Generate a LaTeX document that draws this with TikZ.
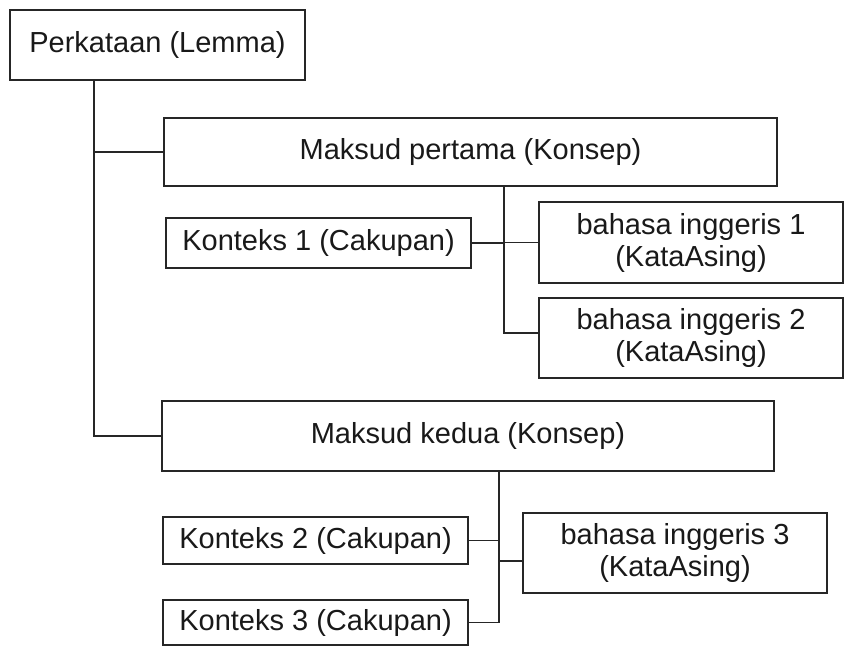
\documentclass[tikz,border=0pt]{standalone}
\usepackage{fontspec}
\setmainfont{Liberation Sans}
\begin{document}
\begin{tikzpicture}[x=1pt,y=-1pt,
  box/.style={draw=black!85, line width=1.2pt, rectangle, inner sep=0pt, align=center,
    font=\fontsize{29}{32}\selectfont, text=black!90},
  conn/.style={draw=black!85, line width=1.2pt}]
\useasboundingbox (0,0) rectangle (853,654);
\fill[white] (0,0) rectangle (853,654);

\node[box, minimum width=295pt, minimum height=70pt] (L) at (157.5,45) {Perkataan (Lemma)};
\node[box, minimum width=613pt, minimum height=68pt] (MP) at (470.5,152) {Maksud pertama (Konsep)};
\node[box, minimum width=305pt, minimum height=50pt] (K1) at (318.5,243) {Konteks 1 (Cakupan)};
\node[box, minimum width=304pt, minimum height=81pt] (B1) at (691,242.5) {bahasa inggeris 1\\(KataAsing)};
\node[box, minimum width=304pt, minimum height=80pt] (B2) at (691,338) {bahasa inggeris 2\\(KataAsing)};
\node[box, minimum width=612pt, minimum height=70pt] (MK) at (468,436) {Maksud kedua (Konsep)};
\node[box, minimum width=305pt, minimum height=47pt] (K2) at (315.5,540.5) {Konteks 2 (Cakupan)};
\node[box, minimum width=305pt, minimum height=45pt] (K3) at (315.5,622.5) {Konteks 3 (Cakupan)};
\node[box, minimum width=304pt, minimum height=80pt] (B3) at (675,553) {bahasa inggeris 3\\(KataAsing)};

\coordinate (t1) at (94,436);
\coordinate (t2) at (504,333);
\coordinate (t3) at (499,622.5);
\coordinate (c3) at (499,561);

\draw[conn] (L.south -| t1) -- (t1) -- (MK.west);
\draw[conn] (t1 |- MP.west) -- (MP.west);

\draw[conn] (MP.south -| t2) -- (t2) -- (B2.west |- t2);
\draw[conn] (K1.east) -- (K1.east -| t2);
\draw[conn] (t2 |- B1.west) -- (B1.west);

\draw[conn] (MK.south -| t3) -- (t3) -- (K3.east);
\draw[conn] (K2.east) -- (K2.east -| t3);
\draw[conn] (c3) -- (B3.west |- c3);
\end{tikzpicture}
\end{document}
